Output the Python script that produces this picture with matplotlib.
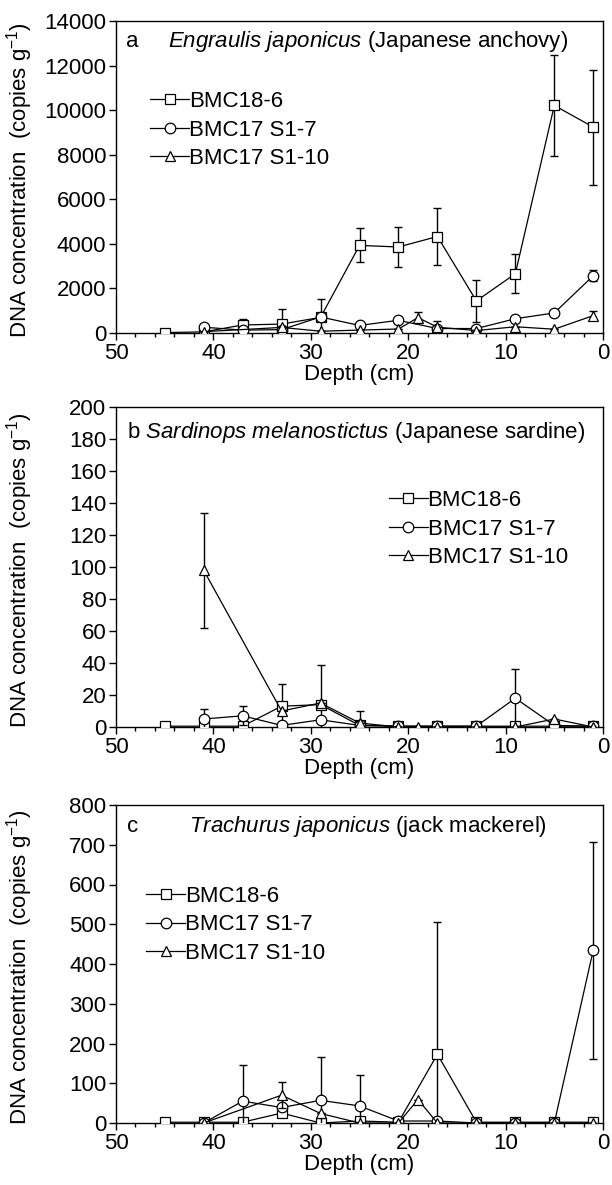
import matplotlib
matplotlib.use("Agg")
import matplotlib.pyplot as plt
from matplotlib.ticker import MultipleLocator
from matplotlib.lines import Line2D

plt.rcParams['font.family'] = ['Liberation Sans', 'DejaVu Sans']
plt.rcParams['mathtext.fontset'] = 'custom'
plt.rcParams['mathtext.rm'] = 'Liberation Sans'
plt.rcParams['mathtext.it'] = 'Liberation Sans:italic'

# depths (cm)
depth_sq = [45, 41, 37, 33, 29, 25, 21, 17, 13, 9, 5, 1]
depth_ci = [41, 37, 33, 29, 25, 21, 17, 13, 9, 5, 1]
depth_tr = [41, 33, 29, 25, 21, 19, 17, 13, 9, 5, 1]

series_names = ["BMC18-6", "BMC17 S1-7", "BMC17 S1-10"]

# Panel a: Engraulis japonicus
a_sq = [20, 50, 360, 400, 700, 3930, 3860, 4330, 1440, 2660, 10210, 9240]
a_sq_err = [0, 0, 250, 680, 840, 760, 900, 1270, 930, 870, 2250, 2580]
a_ci = [260, 130, 150, 720, 340, 570, 200, 200, 640, 900, 2570]
a_ci_err = [0, 0, 0, 0, 0, 0, 0, 0, 0, 0, 240]
a_tr = [60, 250, 80, 130, 180, 690, 260, 110, 280, 170, 780]
a_tr_err = [0, 0, 0, 0, 0, 240, 280, 0, 0, 0, 190]

# Panel b: Sardinops melanostictus
b_sq = [0.5, 0.5, 0.5, 13, 14, 1, 0.5, 0.5, 0.5, 0.5, 0.5, 0.5]
b_sq_err = [0, 0, 0, 14, 25, 0, 0, 0, 0, 0, 0, 0]
b_ci = [5, 7, 1, 4.5, 1, 0.5, 0.5, 0.5, 18, 1, 0.5]
b_ci_err = [6, 6, 0, 0, 0, 0, 0, 0, 18, 0, 0]
b_tr = [98, 10, 15, 2.5, 0, 0, 0, 0, 0, 5, 0]
b_tr_err = [36, 0, 0, 7.5, 0, 0, 0, 0, 0, 0, 0]

# Panel c: Trachurus japonicus
c_sq = [2, 2, 2, 25, 0, 5, 2, 173, 2, 2, 2, 2]
c_sq_err = [0, 0, 0, 0, 0, 0, 0, 333, 0, 0, 0, 0]
c_ci = [0, 55, 39, 57, 43, 5, 5, 0, 0, 0, 435]
c_ci_err = [0, 92, 0, 109, 79, 0, 0, 0, 0, 0, 273]
c_tr = [0, 70, 24, 0, 0, 59, 0, 0, 0, 0, 0]
c_tr_err = [0, 33, 0, 0, 0, 0, 0, 0, 0, 0, 0]

panels = [
    dict(sq=a_sq, sqe=a_sq_err, ci=a_ci, cie=a_ci_err, tr=a_tr, tre=a_tr_err,
         ymax=14000, ystep=2000),
    dict(sq=b_sq, sqe=b_sq_err, ci=b_ci, cie=b_ci_err, tr=b_tr, tre=b_tr_err,
         ymax=200, ystep=20),
    dict(sq=c_sq, sqe=c_sq_err, ci=c_ci, cie=c_ci_err, tr=c_tr, tre=c_tr_err,
         ymax=800, ystep=100),
]

W, H = 612, 1185
fig = plt.figure(figsize=(W / 100, H / 100), dpi=100)

# axes boxes in pixels: (left, top, right, bottom)
boxes = [(116, 21, 603, 333), (116, 407, 603, 727), (116, 805, 603, 1123)]

FS = 16
markers = ['s', 'o', '^']
ms = 7.6

legend_pos = [(0.07, 0.775), (0.56, 0.74), (0.062, 0.745)]

for i, (p, box) in enumerate(zip(panels, boxes)):
    l, t, r, b = box
    ax = fig.add_axes([l / W, 1 - b / H, (r - l) / W, (b - t) / H])
    data = [(depth_sq, p['sq'], p['sqe']), (depth_ci, p['ci'], p['cie']),
            (depth_tr, p['tr'], p['tre'])]
    for k, (x, y, e) in enumerate(data):
        ax.errorbar(x, y, yerr=e, fmt='none', ecolor='black', elinewidth=1.0,
                    capsize=2.6, capthick=1.0, zorder=2 + 2 * k)
        ax.plot(x, y, color='black', lw=0.9, marker=markers[k], ms=ms,
                mfc='white', mec='black', mew=0.9, zorder=3 + 2 * k)
    ax.set_xlim(50, 0)
    ax.set_ylim(0, p['ymax'])
    ax.xaxis.set_major_locator(MultipleLocator(10))
    ax.xaxis.set_minor_locator(MultipleLocator(2))
    ax.yaxis.set_major_locator(MultipleLocator(p['ystep']))
    ax.tick_params(axis='both', which='major', labelsize=FS, direction='out',
                   length=5, width=1.0, pad=2)
    ax.tick_params(axis='x', which='minor', direction='out', length=3, width=1.0)
    for s in ax.spines.values():
        s.set_linewidth(1.0)
    ax.set_xlabel('Depth (cm)', fontsize=FS, labelpad=0)
    ax.set_ylabel('DNA concentration  (copies g$^{-1}$)', fontsize=FS)
    ax.yaxis.set_label_coords(-0.166, 0.49)

    handles = [Line2D([], [], color='black', lw=0.9, marker=markers[k], ms=ms,
                      mfc='white', mec='black', mew=0.9) for k in range(3)]
    ax.legend(handles, series_names, loc='upper left',
              bbox_to_anchor=legend_pos[i], frameon=False, fontsize=FS,
              handlelength=1.75, handletextpad=0.0, labelspacing=0.33,
              borderpad=0, borderaxespad=0)

    if i == 0:
        ax.text(0.021, 0.933, 'a', transform=ax.transAxes, fontsize=FS, va='center')
        ax.text(0.107, 0.933, r'$\mathit{Engraulis\ japonicus}$ (Japanese anchovy)',
                transform=ax.transAxes, fontsize=FS, va='center')
    elif i == 1:
        ax.text(0.023, 0.919, r'b $\mathit{Sardinops\ melanostictus}$ (Japanese sardine)',
                transform=ax.transAxes, fontsize=FS, va='center')
    else:
        ax.text(0.023, 0.931, 'c', transform=ax.transAxes, fontsize=FS, va='center')
        ax.text(0.15, 0.931, r'$\mathit{Trachurus\ japonicus}$ (jack mackerel)',
                transform=ax.transAxes, fontsize=FS, va='center')

fig.savefig('out.png', dpi=100)
